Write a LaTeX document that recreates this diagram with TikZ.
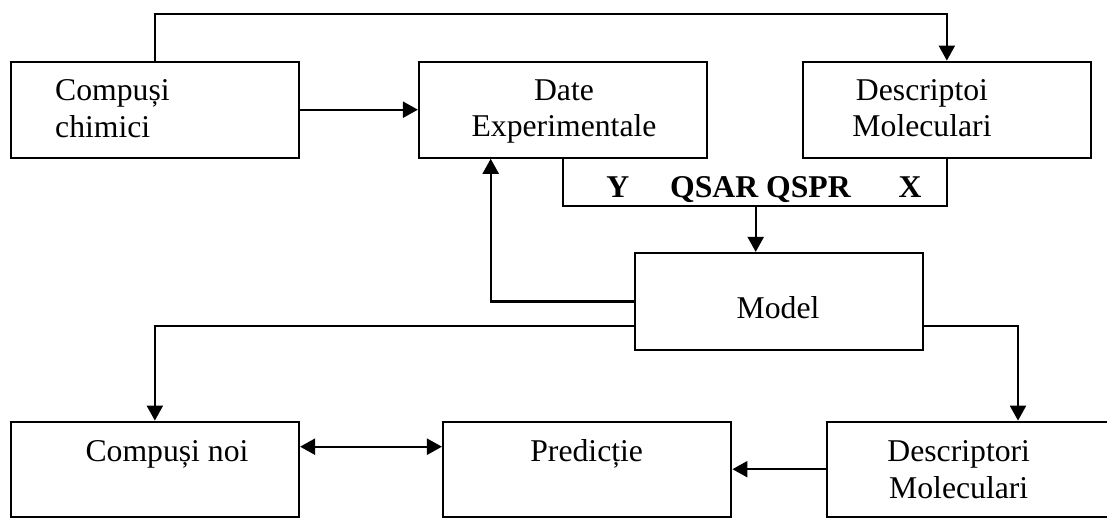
\documentclass[tikz,border=0pt]{standalone}
\usepackage{fontspec}
\setmainfont{Liberation Serif}
\usetikzlibrary{arrows.meta, positioning, calc}
\tikzstyle{block} = [rectangle, draw=black, line width=2.2pt, minimum width=288.3pt, minimum height=96pt, inner sep=0pt]
\tikzstyle{txt} = [inner sep=0pt, anchor=base, align=center, font=\fontsize{31.7}{36.5}\selectfont]
\tikzstyle{link} = [line width=2.2pt]
\tikzstyle{arrow} = [line width=2.2pt, -{Triangle[length=15pt,width=16pt]}]
\tikzstyle{dblarrow} = [line width=2.2pt, {Triangle[length=15pt,width=16pt]}-{Triangle[length=15pt,width=16pt]}]

\begin{document}
\begin{tikzpicture}[x=1pt, y=-1pt]
  \path[use as bounding box, fill=white] (0,0) rectangle (1107,518);

  % Top row
  \node[block] (chim) at (154.85,109.7) {};
  \node[block] (date) at (563.15,109.7) {};
  \node[block] (desc) at (946.85,109.7) {};
  \node[txt, anchor=base west, align=left] (chimtxt) at (55,137.5) {Compuși\\chimici};
  \node[txt] (datetxt) at (564,137) {Date\\Experimentale};
  \node[txt] (desctxt) at (922,137) {Descriptoi\\Moleculari};

  % QSAR bracket
  \coordinate (brk) at (755.7,206);
  \node[txt, font=\fontsize{31.7}{36}\selectfont\bfseries] (ytxt) at (617.7,198) {Y};
  \node[txt, font=\fontsize{31.7}{36}\selectfont\bfseries, anchor=base west] (qsar) at (670,198) {QSAR QSPR};
  \node[txt, font=\fontsize{31.7}{36}\selectfont\bfseries] (xtxt) at (910,198) {X};

  % Model
  \node[block, minimum height=97pt] (model) at (779.15,301.5) {};
  \node[txt] (modeltxt) at (778,318.3) {Model};

  % Bottom row
  \node[block, minimum height=95pt] (noi) at (154.85,469.2) {};
  \node[block, minimum height=95pt] (pred) at (587.2,469.2) {};
  \node[block, minimum height=95pt, minimum width=282.3pt] (descr) at (967.85,469.2) {};
  \node[txt] (noitxt) at (167,461.7) {Compuși noi};
  \node[txt] (predtxt) at (586.7,461.7) {Predicție};
  \node[txt] (descrtxt) at (958.7,498) {Descriptori\\Moleculari};

  % Flows
  \coordinate (tl) at (154.85,14);
  \coordinate (tr) at (946.85,14);
  \draw[arrow] (chim.north) -- (tl) -- (tr) -- (desc.north);
  \draw[arrow] (chim.east) -- (date.west);
  \draw[link] (date.south) -- (date.south |- brk) -- (desc.south |- brk) -- (desc.south);
  \draw[arrow] (brk) -- (brk |- model.north);
  \coordinate (fb) at (490.7,301.5);
  \draw[arrow] (model.west) -- (fb) -- (fb |- date.south);
  \coordinate (lo) at (154.85,326);
  \draw[arrow] (model.west |- lo) -- (lo) -- (noi.north);
  \coordinate (ro) at (1018,326);
  \draw[arrow] (model.east |- ro) -- (ro) -- (ro |- descr.north);
  \draw[dblarrow] ([yshift=22.5pt]noi.east) -- ([yshift=22.5pt]pred.west);
  \draw[arrow] (descr.west) -- (pred.east);
\end{tikzpicture}
\end{document}
